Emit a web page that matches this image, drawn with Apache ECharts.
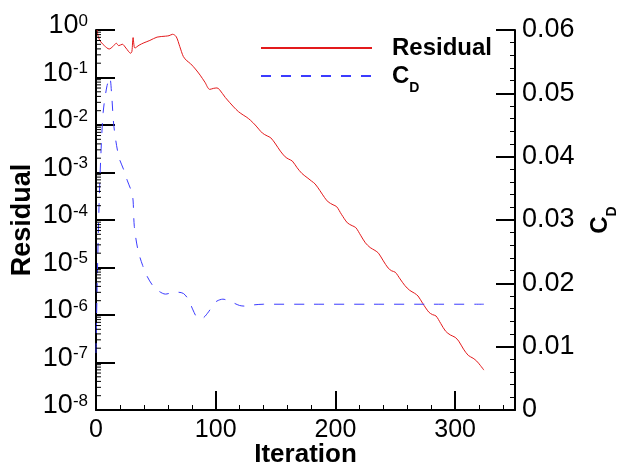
<!DOCTYPE html>
<html><head><meta charset="utf-8">
<script src="https://cdn.jsdelivr.net/npm/echarts@6/dist/echarts.min.js"></script>
<style>html,body{margin:0;padding:0;background:#fff}#c{width:619px;height:466px}</style>
</head><body><div id="c"></div>
<script>
// Residual history: [iteration, residual]
const residualData = [
[1,1.0],[2,0.708],[4,0.562],[7,0.468],[11,0.398],[14,0.447],[17,0.525],[19,0.468],[22,0.501],[25,0.417],
[29,0.324],[30,0.355],[31,0.692],[32.5,0.417],[36,0.479],[40,0.537],[45,0.603],[51,0.708],[58,0.741],[61,0.759],
[64,0.813],[67,0.724],[70,0.447],[73,0.275],[76,0.224],[79,0.195],[83,0.151],[87,0.112],[91,0.0794],[95,0.0562],
[98,0.0589],[101,0.0603],[103,0.0562],[108,0.0380],[115,0.0240],[119,0.0191],[123,0.0162],[126,0.0145],[129,0.0126],[133,0.0100],
[139,6.76e-3],[143,5.89e-3],[146,5.37e-3],[150,3.98e-3],[154,2.82e-3],[158,2.14e-3],[161,1.91e-3],[164,1.74e-3],[168,1.26e-3],[172,9.55e-4],
[177,7.59e-4],[180,6.61e-4],[183,5.75e-4],[187,4.17e-4],[191,2.95e-4],[194,2.40e-4],[198,2.09e-4],[201,1.91e-4],[205,1.32e-4],[210,8.71e-5],
[214,7.59e-5],[217,6.92e-5],[221,4.79e-5],[225,3.31e-5],[229,2.63e-5],[233,2.29e-5],[236,2.00e-5],[240,1.38e-5],[244,9.77e-6],[247,8.51e-6],
[250,7.94e-6],[254,5.75e-6],[258,4.17e-6],[262,3.31e-6],[266,2.88e-6],[269,2.51e-6],[273,1.74e-6],[278,1.15e-6],[281,1.02e-6],[284,9.55e-7],
[288,6.61e-7],[292,4.57e-7],[296,3.80e-7],[300,3.39e-7],[303,2.82e-7],[307,1.91e-7],[311,1.41e-7],[315,1.23e-7],[318,1.07e-7],[321,8.71e-8],
[324,6.92e-8]
];
// Drag coefficient history: [iteration, CD]
const cdData = [
[0,0.009],[1,0.020],[2.5,0.032],[4,0.040],[6,0.047],[9,0.051],[11.5,0.0525],[13,0.050],[15,0.0447],[19,0.0400],
[23,0.0380],[26,0.0363],[30,0.0343],[31,0.0330],[32,0.0290],[35,0.0253],[39,0.0228],[43,0.0210],[48,0.0195],[53,0.0187],
[58,0.0183],[63,0.0185],[68,0.0186],[73,0.0184],[77,0.0175],[81,0.0158],[84,0.0147],[87,0.0144],[90,0.0146],[94,0.0155],
[98,0.0166],[101,0.0172],[106,0.0175],[110,0.0173],[115,0.0169],[120,0.0165],[125,0.0164],[132,0.0166],[140,0.0167],[180,0.0167],
[230,0.0167],[280,0.0167],[324,0.0167]
];
const xTickLabels = [0, 100, 200, 300];
const residualDecades = [-8,-7,-6,-5,-4,-3,-2,-1];
const minorMultipliers = [2,3,4,5,6,7,8,9];

const FONT = 'Liberation Sans, Arial, sans-serif';
const minorLogTicks = [];
residualDecades.forEach(function(d){ minorMultipliers.forEach(function(m){ minorLogTicks.push([0, m*Math.pow(10,d)]); }); });

const chart = echarts.init(document.getElementById('c'), null, {renderer:'canvas'});
chart.setOption({
  animation:false,
  backgroundColor:'#fff',
  grid:{left:96,right:104,top:30,bottom:56,containLabel:false,outerBoundsMode:'none'},
  legend:{
    orient:'vertical', left:255, top:31, itemWidth:111, itemHeight:14, itemGap:4,
    itemStyle:{opacity:0},
    data:['Residual','CD'],
    formatter:function(n){ return n==='Residual' ? '{g|}{t|Residual}' : '{g|}{t|C}{s|D}'; },
    textStyle:{fontFamily:FONT,color:'#000',
      rich:{g:{width:15},t:{fontSize:24,fontWeight:'bold',fontFamily:FONT,lineHeight:26},
            s:{fontSize:14,fontWeight:'bold',fontFamily:FONT,verticalAlign:'bottom',lineHeight:14,padding:[0,0,-6,0]}}}
  },
  xAxis:[{
    type:'value',min:0,max:350,interval:100,
    axisLine:{show:true,onZero:false,lineStyle:{color:'#000',width:2}},
    axisTick:{show:true,inside:true,length:19,lineStyle:{color:'#000',width:2}},
    minorTick:{show:false},
    splitLine:{show:false},
    axisLabel:{fontFamily:FONT,fontSize:25,color:'#000',margin:8,
      formatter:function(v){ return xTickLabels.indexOf(v)>=0 ? String(v) : ''; }},
    name:'Iteration',nameLocation:'middle',nameGap:32,nameMoveOverlap:false,
    nameTextStyle:{fontFamily:FONT,fontSize:26,fontWeight:'bold',color:'#000'}
  },{
    type:'value',min:0,max:350,interval:20,position:'bottom',
    axisLine:{show:false,onZero:false},
    axisTick:{show:true,inside:true,length:5,lineStyle:{color:'#000',width:1}},
    axisLabel:{show:false},splitLine:{show:false}
  }],
  yAxis:[{
    type:'log',logBase:10,min:1e-8,max:1,interval:1,position:'left',
    axisLine:{show:true,onZero:false,lineStyle:{color:'#000',width:2}},
    axisTick:{show:true,inside:true,length:19,lineStyle:{color:'#000',width:2}},
    splitLine:{show:false},
    axisLabel:{fontFamily:FONT,color:'#000',margin:8,
      formatter:function(v){ const e=Math.round(Math.log10(v)); return '{b|10}{e|'+e+'}'; },
      rich:{b:{fontSize:27,fontFamily:FONT,lineHeight:27,verticalAlign:'bottom',padding:[8,0,0,0]},
            e:{fontSize:17,fontFamily:FONT,lineHeight:17,verticalAlign:'top'}},
      padding:[0,0,8,0]},
    name:'Residual',nameLocation:'middle',nameGap:60,nameRotate:90,nameMoveOverlap:false,
    nameTextStyle:{fontFamily:FONT,fontSize:27,fontWeight:'bold',color:'#000'}
  },{
    type:'value',min:0,max:0.06,interval:0.01,position:'right',
    axisLine:{show:true,onZero:false,lineStyle:{color:'#000',width:2}},
    axisTick:{show:true,inside:true,length:19,lineStyle:{color:'#000',width:2}},
    minorTick:{show:true,splitNumber:5,length:5,lineStyle:{color:'#000',width:1}},
    splitLine:{show:false},minorSplitLine:{show:false},
    axisLabel:{fontFamily:FONT,fontSize:27,color:'#000',margin:7,
      formatter:function(v){ return v===0 ? '0' : v.toFixed(2); }},
    name:'{c|C}{d|D}',nameLocation:'middle',nameGap:72,nameRotate:90,nameMoveOverlap:false,
    nameTextStyle:{color:'#000',rich:{c:{fontSize:24,fontWeight:'bold',fontFamily:FONT,lineHeight:26},
      d:{fontSize:14,fontWeight:'bold',fontFamily:FONT,verticalAlign:'bottom',lineHeight:14,padding:[0,0,-6,0]}}}
  }],
  series:[{
    name:'Residual',type:'line',xAxisIndex:0,yAxisIndex:0,data:residualData,
    showSymbol:false,symbol:'none',smooth:0.3,
    lineStyle:{color:'#e31a1c',width:1},itemStyle:{color:'#e31a1c'},z:3
  },{
    name:'CD',type:'line',xAxisIndex:0,yAxisIndex:1,data:cdData,
    showSymbol:false,symbol:'none',smooth:0.3,
    lineStyle:{color:'#3b3bff',width:1,type:[10,10]},itemStyle:{color:'#3b3bff'},z:3
  },{
    type:'custom',xAxisIndex:0,yAxisIndex:0,data:minorLogTicks,silent:true,clip:false,z:5,
    renderItem:function(params,api){
      const p=api.coord([api.value(0),api.value(1)]);
      return {type:'line',shape:{x1:p[0],y1:p[1],x2:p[0]+5,y2:p[1]},style:{stroke:'#000',lineWidth:1}};
    }
  }]
});
</script></body></html>
